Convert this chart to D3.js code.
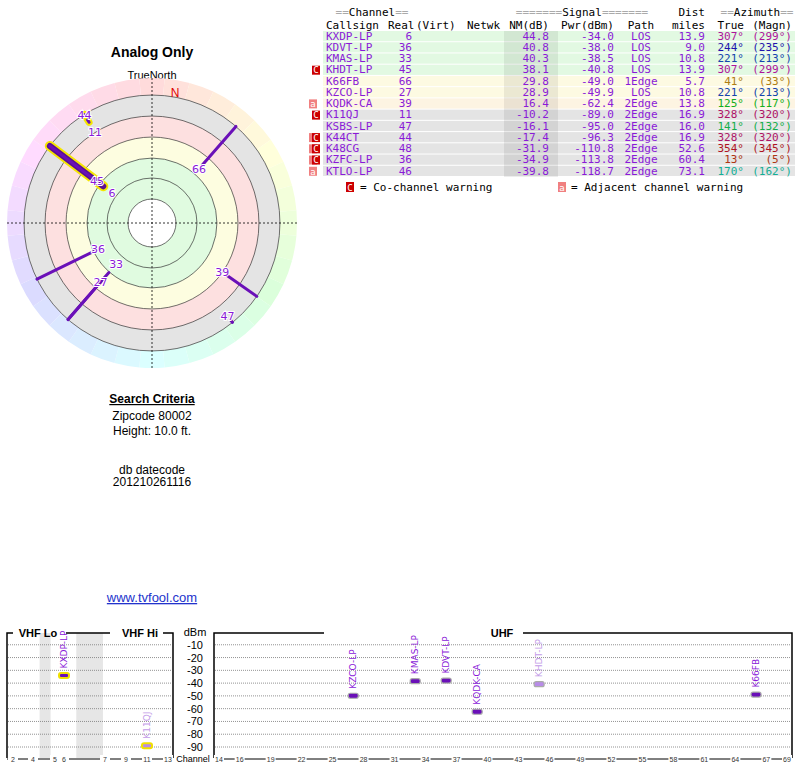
<!DOCTYPE html>
<html><head><meta charset="utf-8">
<script src="https://cdn.jsdelivr.net/npm/d3@7"></script>
<style>body{margin:0;background:#fff}svg{display:block}</style>
</head><body>
<script>
const callsigns=["KXDP-LP","KDVT-LP","KMAS-LP","KHDT-LP","K66FB","KZCO-LP","KQDK-CA","K11QJ","KSBS-LP","K44CT","K48CG","KZFC-LP","KTLO-LP"];
const channels=[6,36,33,45,66,27,39,11,47,44,48,36,46];
const nm=[44.8,40.8,40.3,38.1,29.8,28.9,16.4,-10.2,-16.1,-17.4,-31.9,-34.9,-39.8];
const pwr=[-34.0,-38.0,-38.5,-40.8,-49.0,-49.9,-62.4,-89.0,-95.0,-96.3,-110.8,-113.8,-118.7];
const paths=["LOS","LOS","LOS","LOS","1Edge","LOS","2Edge","2Edge","2Edge","2Edge","2Edge","2Edge","2Edge"];
const dist=[13.9,9.0,10.8,13.9,5.7,10.8,13.8,16.9,16.0,16.9,52.6,60.4,73.1];
const azTrue=[307,244,221,307,41,221,125,328,141,328,354,13,170];
const azMag=[299,235,213,299,33,213,117,320,132,320,345,5,162];
const coWarn=[0,0,0,1,0,0,0,1,0,1,1,1,0];
const adjWarn=[0,0,0,0,0,0,1,0,0,1,1,1,1];
const analog=[1,0,0,0,0,0,0,1,0,1,0,0,0];
const rowBand=["g","g","g","g","y","y","p","x","x","x","x","x","x"];
const ringNM=[-19,1,21,41,60,80];
const dbmTicks=[-10,-20,-30,-40,-50,-60,-70,-80,-90];
const vhfTicks=[2,4,5,6,7,9,11,13];
const uhfTicks=[14,16,19,22,25,28,31,34,37,40,43,46,49,52,55,58,61,64,67,69];

const W=800,H=768;
const svg=d3.select("body").append("svg").attr("width",W).attr("height",H).style("font-family","Liberation Sans, Arial, sans-serif");
const purple="#8a1ad8";

const T=(x,y,t,o={})=>svg.append("text").attr("x",x).attr("y",y).attr("text-anchor",o.a||"middle").attr("font-size",o.s||12).attr("font-weight",o.b?"bold":null).attr("fill",o.c||"#000").attr("text-decoration",o.u?"underline":null).text(t);
T(152,57,"Analog Only",{s:14,b:1});
T(152,79,"TrueNorth",{s:11});
T(152,403,"Search Criteria",{s:12,b:1,u:1});
T(152,420,"Zipcode 80002");
T(152,435,"Height: 10.0 ft.");
T(152,474,"db datecode");
T(152,486,"201210261116");
T(152,602,"www.tvfool.com",{s:13,c:"#2233cc",u:1});

// ---------- polar
const cx=152,cy=223;
const rS=d3.scaleLinear().domain([0,44.8]).range([108,108-1.05*44.8]);
const g=svg.append("g").attr("transform",`translate(${cx},${cy})`);
const rOut=rS(ringNM[0]),rWheel=145;
const arc=d3.arc();
for(let a=0;a<360;a+=10){
  g.append("path").attr("d",arc({innerRadius:rOut,outerRadius:rWheel,startAngle:(a-5)*Math.PI/180,endAngle:(a+5)*Math.PI/180})).attr("fill",d3.hsl(a,1,0.93));
}
const bandFill=["#e4e4e4","#fde0e0","#fdfde0","#e0fbe0","#e0fbe0"];
for(let i=0;i<5;i++) g.append("circle").attr("r",rS(ringNM[i])).attr("fill",bandFill[i]);
g.append("circle").attr("r",rS(ringNM[5])).attr("fill","#fff");
ringNM.forEach(n=>g.append("circle").attr("r",rS(n)).attr("fill","none").attr("stroke","#333").attr("stroke-width",0.7));
g.append("line").attr("x1",-rWheel).attr("x2",rWheel).attr("stroke","#000").attr("stroke-dasharray","2,2").attr("stroke-width",0.8);
g.append("line").attr("y1",-rWheel).attr("y2",rWheel).attr("stroke","#000").attr("stroke-dasharray","2,2").attr("stroke-width",0.8);
g.append("text").attr("x",23).attr("y",-126).attr("font-size",12).attr("fill","#d00").attr("text-anchor","middle").text("N");

const pol=(r,az)=>[r*Math.sin(az*Math.PI/180),-r*Math.cos(az*Math.PI/180)];
const shown=callsigns.map((c,i)=>i).filter(i=>rS(nm[i])<=rOut);
shown.forEach(i=>{
  const r0=rS(nm[i]);
  const [x1,y1]=pol(r0,azTrue[i]),[x2,y2]=pol(rOut,azTrue[i]);
  const w=i===0?6:3;
  if(analog[i]) g.append("line").attr("x1",x1).attr("y1",y1).attr("x2",x2).attr("y2",y2).attr("stroke","#f5e600").attr("stroke-width",w+4).attr("stroke-linecap","round");
  g.append("line").attr("x1",x1).attr("y1",y1).attr("x2",x2).attr("y2",y2).attr("stroke",i===0?"#5a1090":"#6a10b8").attr("stroke-width",w).attr("stroke-linecap","round");
});
shown.forEach(i=>{
  const r0=rS(nm[i]);
  const same=shown.filter(j=>j!==i&&azTrue[j]===azTrue[i]);
  let nud=0;
  if(same.length) nud = nm[i]<nm[same[0]] ? 6 : -6;
  const [lx,ly]=pol(r0-5+nud,azTrue[i]);
  g.append("text").attr("x",lx).attr("y",ly+4).attr("text-anchor","middle").attr("font-size",11).attr("fill",purple)
   .attr("stroke","#fff").attr("stroke-width",2).attr("paint-order","stroke").style("font-family","DejaVu Sans").text(channels[i]);
});

// ---------- table
const mono="DejaVu Sans Mono";
const tg=svg.append("g").style("font-family",mono).attr("font-size",11);
const rowY=d3.scaleBand().domain(d3.range(callsigns.length)).range([31,177]);
const bandCol={g:"#e2f9e2",y:"#fdfae2",p:"#fdf4e2",x:"#e4e4e4"};
callsigns.forEach((c,i)=>{
  tg.append("rect").attr("x",323).attr("y",rowY(i)).attr("width",472).attr("height",rowY.bandwidth()-1).attr("fill",bandCol[rowBand[i]]);
});
tg.append("rect").attr("x",504).attr("y",31).attr("width",54).attr("height",146).attr("fill","#000").attr("opacity",0.07);
const hdr=(x,y,t,a)=>tg.append("text").attr("x",x).attr("y",y).attr("text-anchor",a||"start").attr("fill","#000").text(t);
const hdrG=(x,y,t)=>tg.append("text").attr("x",x).attr("y",y).attr("text-anchor","middle").html(t);
hdrG(372,16,'<tspan fill="#aaa">==</tspan>Channel<tspan fill="#aaa">==</tspan>');
hdrG(582,16,'<tspan fill="#aaa">=======</tspan>Signal<tspan fill="#aaa">=======</tspan>');
hdr(705,16,"Dist","end");
hdrG(757,16,'<tspan fill="#aaa">==</tspan>Azimuth<tspan fill="#aaa">==</tspan>');
hdr(326,29,"Callsign");hdr(388,29,"Real");hdr(416,29,"(Virt)");hdr(467,29,"Netwk");
hdr(549,29,"NM(dB)","end");hdr(614,29,"Pwr(dBm)","end");hdr(641,29,"Path","middle");hdr(705,29,"miles","end");
hdr(744,29,"True","end");hdr(792,29,"(Magn)","end");
callsigns.forEach((c,i)=>{
  const y=rowY(i)+rowY.bandwidth()-2.5;
  const t=(x,s,a,col)=>tg.append("text").attr("x",x).attr("y",y).attr("text-anchor",a||"start").attr("fill",col||purple).text(s);
  t(326,c);t(412,channels[i],"end");t(549,nm[i].toFixed(1),"end");t(614,pwr[i].toFixed(1),"end");
  t(641,paths[i],"middle");t(705,dist[i].toFixed(1),"end");
  const ac=d3.hsl(azTrue[i],0.8,0.38).toString();
  t(744,azTrue[i]+"°","end",ac);t(792,"("+azMag[i]+"°)","end",ac);
  if(adjWarn[i]){tg.append("rect").attr("x",309).attr("y",rowY(i)+1).attr("width",8).attr("height",9).attr("fill","#f08080");
    if(!coWarn[i]) tg.append("text").attr("x",313).attr("y",y).attr("text-anchor","middle").attr("font-size",9).attr("fill","#fff").text("a");}
  if(coWarn[i]){tg.append("rect").attr("x",312).attr("y",rowY(i)+1).attr("width",8).attr("height",9).attr("fill","#c00");
    tg.append("text").attr("x",316).attr("y",y).attr("text-anchor","middle").attr("font-size",9).attr("fill","#fff").text("C");}
});
tg.append("rect").attr("x",346).attr("y",182).attr("width",8).attr("height",10).attr("fill","#c00");
tg.append("text").attr("x",350).attr("y",191).attr("text-anchor","middle").attr("font-size",9).attr("fill","#fff").text("C");
tg.append("text").attr("x",360).attr("y",191).attr("font-size",11).text("= Co-channel warning");
tg.append("rect").attr("x",558).attr("y",182).attr("width",8).attr("height",10).attr("fill","#f08080");
tg.append("text").attr("x",562).attr("y",191).attr("text-anchor","middle").attr("font-size",9).attr("fill","#fff").text("a");
tg.append("text").attr("x",571).attr("y",191).attr("font-size",11).text("= Adjacent channel warning");

// ---------- spectrum
const yS=d3.scaleLinear().domain([0,-90]).range([632,747]);
const xV=d3.scaleLinear().domain([2,4,5,6,7,13]).range([13,33,55,64,105,168]);
const xU=d3.scaleLinear().domain([14,69]).range([219,787]);
const sp=svg.append("g");
sp.append("rect").attr("x",xV(4.3)).attr("y",633).attr("width",xV(4.8)-xV(4.3)).attr("height",125).attr("fill","#e6e6e6");
sp.append("rect").attr("x",xV(6.3)).attr("y",633).attr("width",xV(6.95)-xV(6.3)).attr("height",125).attr("fill","#e6e6e6");
dbmTicks.forEach(d=>{
  sp.append("line").attr("x1",8).attr("x2",172).attr("y1",yS(d)).attr("y2",yS(d)).attr("stroke","#777").attr("stroke-dasharray","1,1").attr("stroke-width",0.8);
  sp.append("line").attr("x1",215).attr("x2",791).attr("y1",yS(d)).attr("y2",yS(d)).attr("stroke","#777").attr("stroke-dasharray","1,1").attr("stroke-width",0.8);
  sp.append("text").attr("x",195).attr("y",yS(d)+4).attr("text-anchor","middle").attr("font-size",11).text(d);
});
sp.append("text").attr("x",195).attr("y",636).attr("text-anchor","middle").attr("font-size",11).text("dBm");
const bx=(pts)=>sp.append("path").attr("d",d3.line()(pts)).attr("fill","none").attr("stroke","#000").attr("stroke-width",1.5);
bx([[13,633],[7,633],[7,758]]);bx([[173,758],[173,633],[163,633]]);
bx([[110,633],[66,633]]);
bx([[324,633],[214,633],[214,758]]);bx([[523,633],[792,633],[792,758]]);
T(38,637,"VHF Lo",{s:11,b:1});T(140,637,"VHF Hi",{s:11,b:1});T(502,637,"UHF",{s:11,b:1});
const ax=(sc,ticks,x0,x1)=>{
  sp.append("line").attr("x1",x0).attr("x2",x1).attr("y1",759).attr("y2",759).attr("stroke","#000");
  ticks.forEach(t=>{const x=sc(t);
    sp.append("rect").attr("x",x-5).attr("y",755).attr("width",10).attr("height",8).attr("fill","#fff");
    sp.append("text").attr("x",x).attr("y",762).attr("text-anchor","middle").attr("font-size",7).attr("fill","#333").text(t);});
};
ax(xV,vhfTicks,7,173);ax(xU,uhfTicks,214,792);
T(193,762,"Channel",{s:9});
callsigns.forEach((c,i)=>{
  if(pwr[i]<-90.5) return;
  const ch=channels[i];
  const x=ch<=13?xV(ch):xU(ch), y=yS(pwr[i]);
  const faded=coWarn[i];
  sp.append("rect").attr("x",x-5).attr("y",y-2.5).attr("width",10).attr("height",5).attr("rx",2)
    .attr("fill",faded?"#b88be8":"#6a10b8").attr("stroke",analog[i]?"#f0e000":"#aaa").attr("stroke-width",analog[i]?2:1.2);
  sp.append("text").attr("transform",`translate(${x+3},${y-7}) rotate(-90)`).attr("font-size",9).style("font-family","DejaVu Sans")
    .attr("fill",faded?"#c39be8":purple).text(c);
});
</script>
</body></html>
